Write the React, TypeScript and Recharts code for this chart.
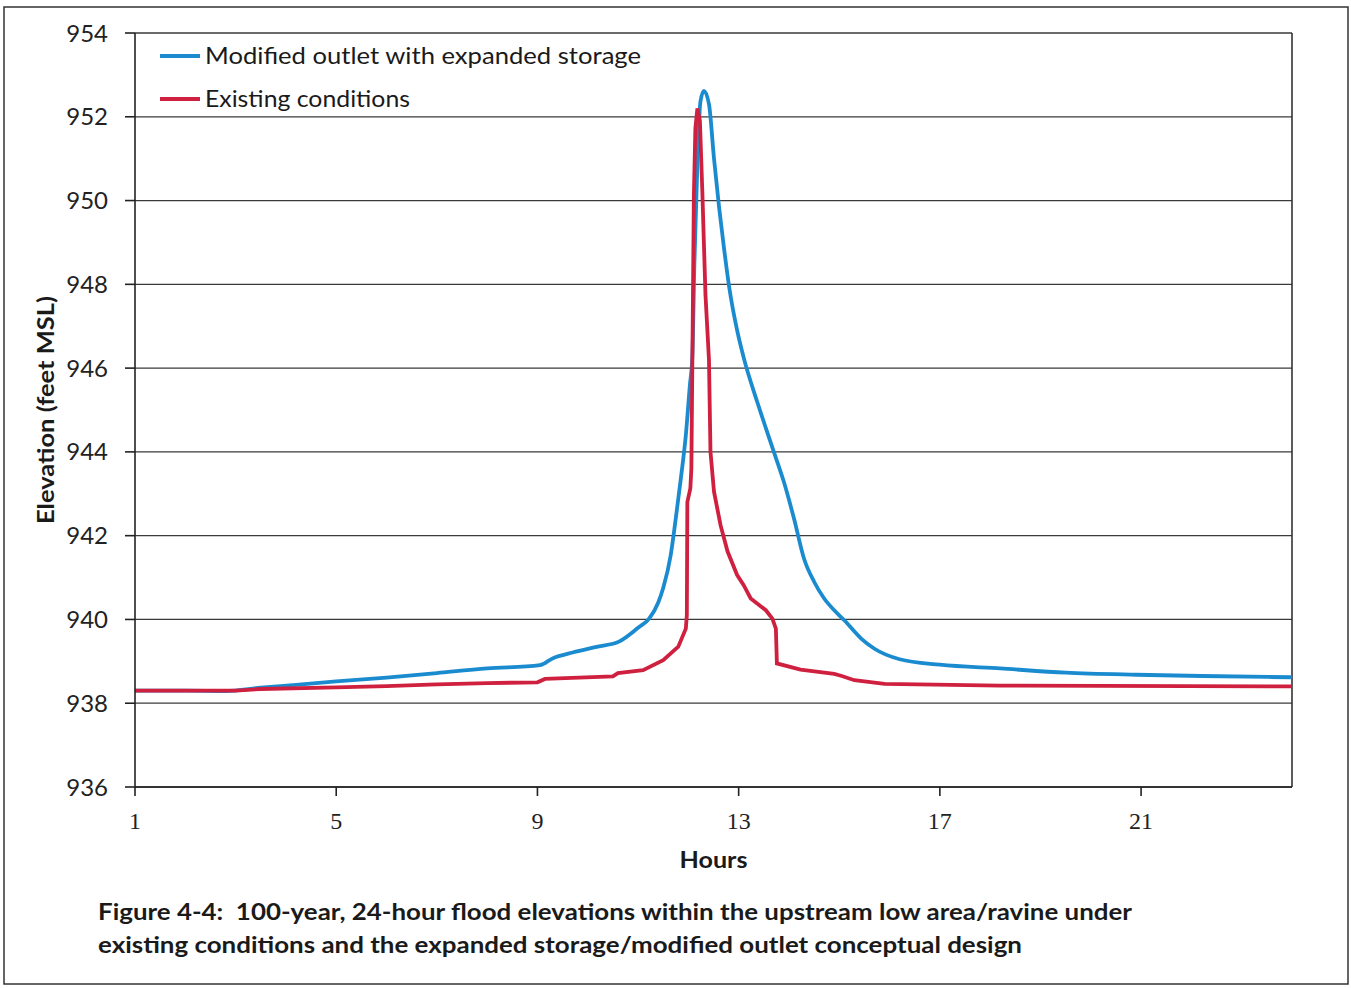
import React from 'react';
import { LineChart, Line, XAxis, YAxis, CartesianGrid, Legend, ReferenceLine } from 'recharts';

const xTicks = [1, 5, 9, 13, 17, 21];
const yTicks = [936, 938, 940, 942, 944, 946, 948, 950, 952, 954];

const seriesNames = ['Modified outlet with expanded storage', 'Existing conditions'];

const modifiedHours = [1, 2, 2.8, 3.5, 4.2, 5, 6, 7, 8, 9.05, 9.3, 9.7, 10.2, 10.62, 11.0, 11.22, 11.4, 11.5, 11.65, 11.75, 11.85, 11.95, 12.03, 12.08, 12.12, 12.18, 12.24, 12.31, 12.41, 12.51, 12.61, 12.71, 12.81, 12.97, 13.1, 13.37, 13.7, 13.9, 14.1, 14.3, 14.5, 14.7, 14.9, 15.1, 15.43, 15.7, 16.2, 17, 18.2, 19.5, 20.9, 22.2, 24];
const modifiedElev = [938.3, 938.3, 938.29, 938.37, 938.44, 938.52, 938.61, 938.72, 938.83, 938.91, 939.07, 939.21, 939.35, 939.47, 939.8, 940.02, 940.4, 940.75, 941.54, 942.41, 943.36, 944.4, 945.59, 946.3, 948.5, 950.9, 952.36, 952.62, 952.3, 951.0, 949.85, 948.85, 947.95, 946.9, 946.25, 945.19, 944.0, 943.28, 942.41, 941.45, 940.9, 940.5, 940.22, 939.98, 939.55, 939.3, 939.05, 938.92, 938.83, 938.73, 938.68, 938.65, 938.62];

const existingHours = [1, 3, 3.5, 5, 6, 7, 8, 9.0, 9.15, 10.5, 10.6, 11.1, 11.5, 11.8, 11.95, 11.97, 11.98, 12.04, 12.06, 12.08, 12.11, 12.14, 12.18, 12.23, 12.28, 12.34, 12.41, 12.44, 12.51, 12.64, 12.78, 12.97, 13.1, 13.24, 13.54, 13.67, 13.74, 13.76, 14.23, 14.9, 15.05, 15.3, 15.9, 18.2, 24];
const existingElev = [938.3, 938.3, 938.34, 938.38, 938.41, 938.45, 938.48, 938.5, 938.58, 938.64, 938.72, 938.79, 939.03, 939.35, 939.78, 940.1, 942.8, 943.13, 943.6, 946.2, 950.14, 951.73, 952.2, 951.9, 950.14, 947.76, 946.2, 944.0, 943.05, 942.25, 941.62, 941.06, 940.82, 940.5, 940.22, 940.02, 939.78, 938.95, 938.8, 938.7, 938.65, 938.55, 938.46, 938.42, 938.4];

const modifiedData = modifiedHours.map((h, i) => ({ h, v: modifiedElev[i] }));
const existingData = existingHours.map((h, i) => ({ h, v: existingElev[i] }));

const BLUE = '#1b8bd0';
const RED = '#d0203f';
const SANS = 'Lato, "Open Sans", sans-serif';
const SERIF = '"Liberation Serif", serif';

const legendWidths: Record<string, number> = {
  'Modified outlet with expanded storage': 436,
  'Existing conditions': 205,
};

const renderLegend = (props: any) => {
  const payload = [...(props.payload || [])].sort(
    (a: any, b: any) => seriesNames.indexOf(String(a.value)) - seriesNames.indexOf(String(b.value))
  );
  return (
    <svg width={520} height={90} style={{ display: 'block', overflow: 'visible' }}>
      {payload.map((p: any, i: number) => {
        const cy = 21 + i * 43;
        const name = String(p.value);
        return (
          <g key={name}>
            <line x1={5} x2={45} y1={cy} y2={cy} stroke={p.color} strokeWidth={4} />
            <text
              x={50}
              y={cy + 8}
              fontFamily={SANS}
              fontSize={24}
              fill="#1a1a1a"
              textLength={legendWidths[name]}
              lengthAdjust="spacingAndGlyphs"
            >
              {name}
            </text>
          </g>
        );
      })}
    </svg>
  );
};

const YLabel = (props: any) => {
  const vb = props.viewBox || {};
  const cy = vb.y + vb.height / 2;
  return (
    <text
      x={45}
      y={cy}
      transform={`rotate(-90 45 ${cy})`}
      textAnchor="middle"
      dominantBaseline="central"
      fontFamily={SANS}
      fontWeight={700}
      fontSize={22}
      fill="#1a1a1a"
      textLength={228}
      lengthAdjust="spacingAndGlyphs"
    >
      Elevation (feet MSL)
    </text>
  );
};

const XLabel = (props: any) => {
  const vb = props.viewBox || {};
  const cx = vb.x + vb.width / 2;
  return (
    <text
      x={cx}
      y={868}
      textAnchor="middle"
      fontFamily={SANS}
      fontWeight={700}
      fontSize={23}
      fill="#1a1a1a"
      textLength={68}
      lengthAdjust="spacingAndGlyphs"
    >
      Hours
    </text>
  );
};

export default function App() {
  return (
    <div style={{ position: 'fixed', left: 0, top: 0, width: 1351, height: 988, background: '#fff' }}>
      <LineChart width={1351} height={988} margin={{ top: 33, right: 59, bottom: 171, left: 75 }}>
        <CartesianGrid vertical={false} stroke="#3a3a3a" strokeWidth={1.3} />
        <XAxis
          dataKey="h"
          type="number"
          domain={[1, 24]}
          ticks={xTicks}
          allowDataOverflow
          height={30}
          tickSize={9}
          tickMargin={16}
          stroke="#222"
          strokeWidth={1.6}
          tick={{ fontFamily: SERIF, fontSize: 24, fill: '#222' }}
          label={<XLabel />}
        />
        <YAxis
          type="number"
          domain={[936, 954]}
          ticks={yTicks}
          width={60}
          tickSize={10}
          tickMargin={17}
          stroke="#222"
          strokeWidth={1.6}
          tick={{ fontFamily: SANS, fontSize: 24, fill: '#222' }}
          label={<YLabel />}
        />
        <ReferenceLine x={24} stroke="#333" strokeWidth={1.6} ifOverflow="visible" />
        <Legend
          layout="vertical"
          align="center"
          verticalAlign="middle"
          content={renderLegend}
          wrapperStyle={{ top: 35, left: 155, width: 520, height: 90 }}
        />
        <Line
          data={modifiedData}
          dataKey="v"
          name="Modified outlet with expanded storage"
          type="monotone"
          stroke={BLUE}
          strokeWidth={3.8}
          dot={false}
          isAnimationActive={false}
        />
        <Line
          data={existingData}
          dataKey="v"
          name="Existing conditions"
          type="linear"
          stroke={RED}
          strokeWidth={3.8}
          dot={false}
          isAnimationActive={false}
        />
      </LineChart>
      <svg width={1351} height={988} style={{ position: 'absolute', left: 0, top: 0, pointerEvents: 'none' }}>
        <rect x={4} y={7} width={1344} height={977} fill="none" stroke="#333" strokeWidth={1.5} />
        <text
          x={98}
          y={920}
          fontFamily={SANS}
          fontWeight={700}
          fontSize={23}
          fill="#1a1a1a"
          textLength={1034}
          lengthAdjust="spacingAndGlyphs"
        >
          {'Figure 4-4:\u00A0 100-year, 24-hour flood elevations within the upstream low area/ravine under'}
        </text>
        <text
          x={98}
          y={953}
          fontFamily={SANS}
          fontWeight={700}
          fontSize={23}
          fill="#1a1a1a"
          textLength={924}
          lengthAdjust="spacingAndGlyphs"
        >
          existing conditions and the expanded storage/modified outlet conceptual design
        </text>
      </svg>
    </div>
  );
}
